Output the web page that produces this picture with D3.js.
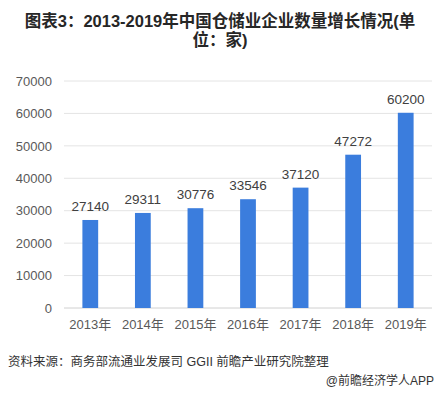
<!DOCTYPE html>
<html>
<head>
<meta charset="utf-8">
<script src="https://cdn.jsdelivr.net/npm/d3@7"></script>
<style>
  body { margin: 0; background: #fff; }
  text { font-family: "Liberation Sans", "Noto Sans CJK SC", sans-serif; }
</style>
</head>
<body>
<div class="chart"></div>
<script>
var years = ["2013年", "2014年", "2015年", "2016年", "2017年", "2018年", "2019年"];
var counts = [27140, 29311, 30776, 33546, 37120, 47272, 60200];
var yTicks = [0, 10000, 20000, 30000, 40000, 50000, 60000, 70000];

var svgWidth = 441, svgHeight = 393;
var margin = { top: 81, right: 9, bottom: 85, left: 64 };
var width = svgWidth - margin.left - margin.right;
var height = svgHeight - margin.top - margin.bottom;

var svg = d3.select(".chart").append("svg")
    .attr("width", svgWidth)
    .attr("height", svgHeight);

// title
var title = svg.append("text")
    .attr("text-anchor", "middle")
    .attr("font-size", "16.5px")
    .attr("font-weight", "bold")
    .attr("fill", "#262626");
title.append("tspan").attr("x", 220).attr("y", 27).text("图表3：2013-2019年中国仓储业企业数量增长情况(单");
title.append("tspan").attr("x", 220).attr("y", 46).text("位：家)");

var chartGroup = svg.append("g")
    .attr("transform", `translate(${margin.left}, ${margin.top})`);

var xScale = d3.scaleBand()
    .domain(years)
    .range([0, width])
    .paddingInner(0.7)
    .paddingOuter(0.35);

var yScale = d3.scaleLinear()
    .domain([0, 70000])
    .range([height, 0]);

// gridlines
chartGroup.selectAll(".grid")
    .data(yTicks)
    .enter()
    .append("line")
    .attr("x1", 0)
    .attr("x2", width)
    .attr("y1", d => yScale(d))
    .attr("y2", d => yScale(d))
    .attr("stroke", d => d === 0 ? "#d0d0d0" : "#e4e4e4")
    .attr("stroke-width", 1);

// y axis labels
var leftAxis = d3.axisLeft(yScale).tickValues(yTicks).tickSize(0).tickPadding(12)
    .tickFormat(d3.format("d"));
var yAxis = chartGroup.append("g").call(leftAxis);
yAxis.select(".domain").remove();
yAxis.selectAll("text").attr("font-size", "13px").attr("fill", "#595959");

// x axis labels
var bottomAxis = d3.axisBottom(xScale).tickSize(0).tickPadding(12);
var xAxis = chartGroup.append("g")
    .attr("transform", `translate(0, ${height})`)
    .call(bottomAxis);
xAxis.select(".domain").remove();
xAxis.selectAll("text").attr("font-size", "13px").attr("fill", "#595959");

// bars
chartGroup.selectAll("rect")
    .data(counts)
    .enter()
    .append("rect")
    .attr("x", (d, i) => xScale(years[i]))
    .attr("y", d => yScale(d))
    .attr("width", xScale.bandwidth())
    .attr("height", d => height - yScale(d))
    .attr("fill", "#3b7ddd");

// value labels
chartGroup.selectAll(".val")
    .data(counts)
    .enter()
    .append("text")
    .attr("x", (d, i) => xScale(years[i]) + xScale.bandwidth() / 2)
    .attr("y", d => yScale(d) - 9)
    .attr("text-anchor", "middle")
    .attr("font-size", "13.5px")
    .attr("fill", "#404040")
    .text(d => d);

// source
svg.append("text")
    .attr("x", 8)
    .attr("y", 366)
    .attr("font-size", "12.5px")
    .attr("fill", "#333")
    .text("资料来源：商务部流通业发展司 GGII 前瞻产业研究院整理");

svg.append("text")
    .attr("x", 434)
    .attr("y", 385)
    .attr("text-anchor", "end")
    .attr("font-size", "12px")
    .attr("fill", "#333")
    .text("@前瞻经济学人APP");
</script>
</body>
</html>
